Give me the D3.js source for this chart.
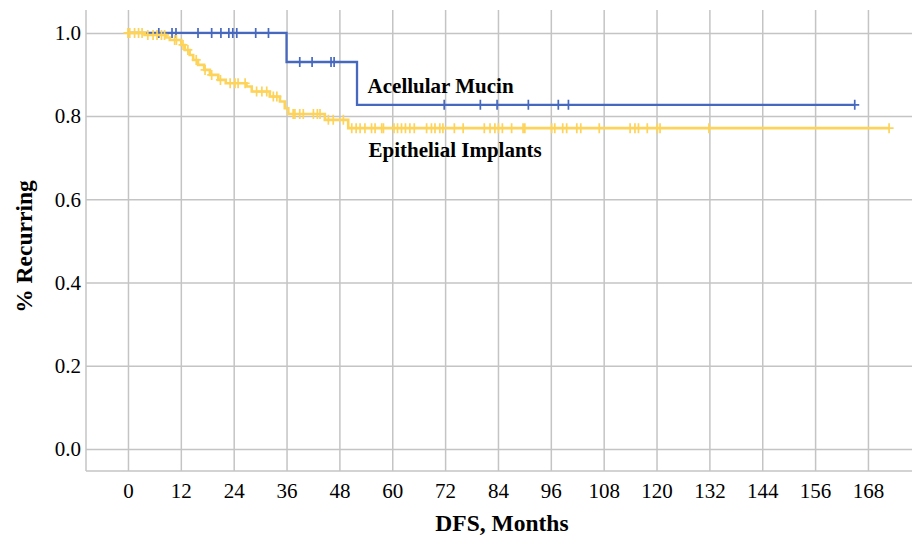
<!DOCTYPE html>
<html>
<head>
<meta charset="utf-8">
<script src="https://cdn.jsdelivr.net/npm/d3@7"></script>
<style>
  body { margin: 0; background: #fff; }
  svg text { font-family: 'Liberation Serif', 'DejaVu Serif', serif !important; fill: #000; }
</style>
</head>
<body>
<div class="canvas"></div>
<script>
// ---- data ----
const xTicks = [0, 12, 24, 36, 48, 60, 72, 84, 96, 108, 120, 132, 144, 156, 168];
const yTicks = [0.0, 0.2, 0.4, 0.6, 0.8, 1.0];

// Acellular Mucin: [month, survival after step]
const mucinSteps = [[0, 1.0], [36, 0.93], [52, 0.827]];
const mucinEnd = 165;
const mucinCensor = [7.0, 10.0, 10.9, 15.9, 19.0, 21.1, 22.9, 23.8, 24.7, 29.0, 31.9,
  39.0, 41.8, 46.1, 46.8,
  71.8, 80.0, 83.8, 90.9, 97.7, 100.0, 165.0];

// Epithelial Implants
const epiSteps = [[0, 1.0], [3.8, 0.995], [8.7, 0.989], [9.5, 0.983], [12.1, 0.971], [12.9, 0.959],
  [14.0, 0.947], [14.8, 0.935], [15.9, 0.923], [17.3, 0.911], [18.6, 0.899], [20.5, 0.887],
  [22.2, 0.879], [26.9, 0.871], [28.1, 0.859], [32.2, 0.847], [34.5, 0.835], [35.6, 0.819],
  [36.4, 0.805], [44.7, 0.791], [50.0, 0.771]];
const epiEnd = 172.8;
const epiCensor = [0, 0.4, 1.5, 2.4, 3.2, 4.5, 5.7, 6.6, 7.6, 8.3, 10.6, 11.0, 12.5, 13.6,
  15.5, 17.5, 19.0, 21.0, 23.2, 24.3, 25.0, 26.6, 29.2, 30.4, 31.5, 33.0, 33.8,
  37.5, 37.9, 39.0, 39.8, 42.1, 43.0, 43.6, 45.5, 46.6, 48.9,
  50.8, 51.8, 52.7, 53.8, 55.3, 56.1, 57.6, 58.0, 60.4, 61.2, 62.1, 63.0, 64.0, 65.0,
  67.8, 68.9, 69.7, 70.8, 71.5, 74.1, 76.1, 80.9, 82.2, 83.3, 84.1, 85.0, 87.1, 89.7,
  90.1, 96.2, 96.9, 98.7, 99.6, 101.9, 102.8, 107.0, 114.0, 115.1, 115.9, 117.9,
  120.2, 120.8, 131.9, 172.8];

const seriesNames = ['Acellular Mucin', 'Epithelial Implants'];

// ---- layout ----
const dims = { width: 917, height: 536 };
const margin = { top: 10, right: 5, bottom: 65, left: 86 };
const w = dims.width - margin.left - margin.right;
const h = dims.height - margin.top - margin.bottom;

const colour = { mucin: '#4768bf', epi: '#fdd35a' };
const gridCol = '#c4c4c4';
const serif = "'Liberation Serif', 'DejaVu Serif', serif";

const svg = d3.select('.canvas')
  .append('svg')
  .attr('width', dims.width)
  .attr('height', dims.height)
  .style('font-family', serif);

const graph = svg.append('g')
  .attr('transform', `translate(${margin.left}, ${margin.top})`);

const x = d3.scaleLinear().domain([-9.53, 178]).range([0, w]);
const y = d3.scaleLinear().domain([-0.053, 1.055]).range([h, 0]);

// gridlines
const xGrid = graph.append('g')
  .attr('transform', `translate(0, ${h})`)
  .call(d3.axisBottom(x).tickValues(xTicks).tickSize(-h).tickFormat(''));
const yGrid = graph.append('g')
  .call(d3.axisLeft(y).tickValues(yTicks).tickSize(-w).tickFormat(''));
[xGrid, yGrid].forEach(g => {
  g.select('.domain').remove();
  g.selectAll('line').attr('stroke', gridCol).attr('stroke-width', 1.5);
});

// axis lines
graph.append('line')
  .attr('x1', 0).attr('x2', 0).attr('y1', 0).attr('y2', h)
  .attr('stroke', gridCol).attr('stroke-width', 1.5);
graph.append('line')
  .attr('x1', 0).attr('x2', w).attr('y1', h).attr('y2', h)
  .attr('stroke', gridCol).attr('stroke-width', 1.5);

// tick labels
const xAxis = graph.append('g')
  .attr('transform', `translate(0, ${h})`)
  .call(d3.axisBottom(x).tickValues(xTicks).tickSize(0).tickPadding(12));
const yAxis = graph.append('g')
  .call(d3.axisLeft(y).tickValues(yTicks).tickSize(0).tickPadding(5).tickFormat(d3.format('.1f')));
[xAxis, yAxis].forEach(g => {
  g.attr('font-family', serif);
  g.select('.domain').remove();
  g.selectAll('text')
    .style('font-family', serif)
    .attr('font-size', 21)
    .attr('fill', '#000');
});

// axis titles
svg.append('text')
  .attr('x', margin.left + x(84) + 4)
  .attr('y', 531)
  .attr('text-anchor', 'middle')
  .attr('font-size', 23.5)
  .attr('font-weight', 'bold')
  .text('DFS, Months');

svg.append('text')
  .attr('transform', `translate(32, ${margin.top + h / 2 + 6}) rotate(-90)`)
  .attr('text-anchor', 'middle')
  .attr('font-size', 23.5)
  .attr('font-weight', 'bold')
  .text('% Recurring');

// survival curves
const stepLine = d3.line()
  .x(d => x(d[0]))
  .y(d => y(d[1]))
  .curve(d3.curveStepAfter);

const valueAt = (steps, t) => {
  const i = d3.bisector(d => d[0]).right(steps, t) - 1;
  return steps[Math.max(i, 0)][1];
};

const drawSeries = (steps, end, censor, col, width) => {
  const pts = steps.concat([[end, steps[steps.length - 1][1]]]);
  graph.append('path')
    .datum(pts)
    .attr('fill', 'none')
    .attr('stroke', col)
    .attr('stroke-width', width)
    .attr('d', stepLine);

  graph.append('g')
    .selectAll('path')
    .data(censor)
    .enter()
    .append('path')
      .attr('transform', d => `translate(${x(d)}, ${y(valueAt(steps, d))})`)
      .attr('d', 'M-4.5,0H4.5M0,-5V5')
      .attr('stroke', col)
      .attr('stroke-width', 1.7)
      .attr('fill', 'none');
};

drawSeries(mucinSteps, mucinEnd, mucinCensor, colour.mucin, 2.3);
drawSeries(epiSteps, epiEnd, epiCensor, colour.epi, 2.6);

// series labels
graph.append('text')
  .attr('x', x(54.4))
  .attr('y', y(0.856))
  .attr('font-size', 21)
  .attr('font-weight', 'bold')
  .text(seriesNames[0]);

graph.append('text')
  .attr('x', x(54.6))
  .attr('y', y(0.702))
  .attr('font-size', 21)
  .attr('font-weight', 'bold')
  .text(seriesNames[1]);
</script>
</body>
</html>
